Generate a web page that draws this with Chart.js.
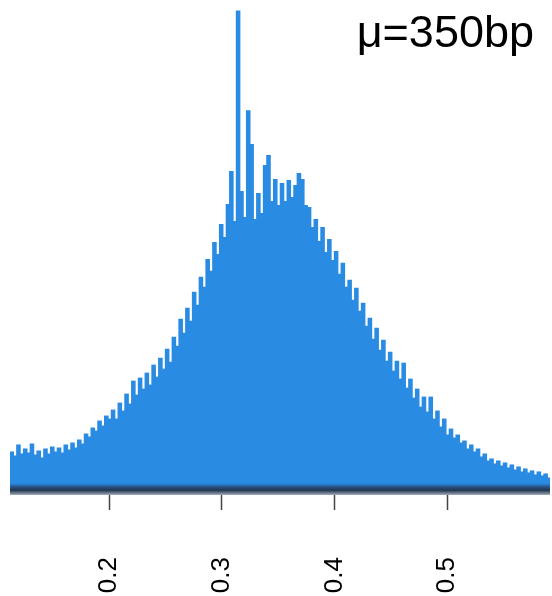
<!DOCTYPE html>
<html>
<head>
<meta charset="utf-8">
<script src="https://cdn.jsdelivr.net/npm/chart.js@4/dist/chart.umd.min.js"></script>
<style>
  html, body { margin: 0; padding: 0; background: #fff; }
  #wrap { width: 552px; height: 596px; position: relative; }
</style>
</head>
<body>
<div id="wrap"><canvas id="hist"></canvas></div>
<script>
// histogram bins: left edge of the first bin and the bin width
const BIN_START = 0.112;
const BIN_WIDTH = 0.003;

// counts per bin
const counts = [
    37, 33, 44, 35, 40, 36, 45, 34, 38, 31,
    40, 35, 42, 37, 41, 36, 44, 39, 46, 41,
    49, 45, 55, 52, 61, 58, 68, 63, 73, 70,
    79, 70, 86, 78, 95, 85, 108, 94, 111, 100,
    116, 104, 124, 112, 131, 120, 140, 127, 152, 143,
    170, 156, 181, 168, 197, 184, 212, 202, 230, 218,
    247, 235, 265, 252, 285, 318, 268, 479, 298, 272,
    379, 345, 270, 296, 276, 324, 334, 288, 310, 284,
    306, 288, 309, 292, 304, 316, 310, 284, 282, 262,
    270, 248, 262, 237, 250, 229, 238, 215, 226, 202,
    209, 189, 201, 178, 186, 163, 171, 150, 161, 139,
    149, 128, 137, 118, 128, 110, 126, 101, 110, 91,
    100, 82, 92, 77, 92, 70, 78, 62, 70, 54,
    60, 51, 54, 46, 48, 40, 44, 37, 40, 32,
    35, 28, 30, 25, 28, 23, 26, 21, 24, 19,
    22, 17, 20, 16, 18, 14, 17, 13, 15, 11
];

// x axis tick values
const xTicks = [0.2, 0.3, 0.4, 0.5];

const X_MIN = 0.112;
const X_MAX = 0.5914;
const Y_MAX = 480;

const titleText = 'μ=350bp';

// bars placed at bin centres
const points = counts.map((c, i) => ({ x: BIN_START + (i + 0.5) * BIN_WIDTH, y: c }));

// text in the top right corner, drawn over the plot
const cornerLabel = {
    id: 'cornerLabel',
    afterDraw(chart) {
        const ctx = chart.ctx;
        ctx.save();
        ctx.font = '45px "Liberation Sans", Arial, sans-serif';
        ctx.fillStyle = '#000';
        ctx.textAlign = 'right';
        ctx.textBaseline = 'alphabetic';
        ctx.fillText(titleText, 534, 47);
        ctx.restore();
    }
};

// shaded baseline under the bars
const baseBand = {
    id: 'baseBand',
    afterDatasetsDraw(chart) {
        const { ctx, chartArea } = chart;
        const y = chartArea.bottom;
        const g = ctx.createLinearGradient(0, y - 6, 0, y + 6);
        g.addColorStop(0, 'rgba(42,110,180,0)');
        g.addColorStop(0.3, '#2a5587');
        g.addColorStop(0.6, '#1f3550');
        g.addColorStop(1, '#a3adb8');
        ctx.save();
        ctx.fillStyle = g;
        ctx.fillRect(chartArea.left, y - 6, chartArea.right - chartArea.left, 12);
        ctx.restore();
    }
};

new Chart(document.getElementById('hist'), {
    type: 'bar',
    data: {
        datasets: [{
            data: points,
            backgroundColor: '#2a8be3',
            borderWidth: 0,
            inflateAmount: 0.6,
            barPercentage: 1,
            categoryPercentage: 1,
            grouped: false
        }]
    },
    options: {
        responsive: true,
        maintainAspectRatio: false,
        animation: false,
        layout: {
            padding: { left: 10, right: 2, top: 10, bottom: 0 }
        },
        plugins: {
            legend: { display: false },
            tooltip: { enabled: false }
        },
        scales: {
            x: {
                type: 'linear',
                offset: false,
                min: X_MIN,
                max: X_MAX,
                afterBuildTicks: (scale) => {
                    scale.ticks = xTicks.map(v => ({ value: v }));
                },
                afterFit: (scale) => {
                    scale.height = 107;
                },
                grid: {
                    offset: false,
                    drawOnChartArea: false,
                    drawTicks: true,
                    tickLength: 21,
                    tickWidth: 1.5,
                    tickColor: '#444'
                },
                border: {
                    display: false
                },
                ticks: {
                    minRotation: 90,
                    maxRotation: 90,
                    padding: 47,
                    color: '#000',
                    font: { family: '"Liberation Sans", Arial, sans-serif', size: 26 },
                    callback: (v) => Number(v).toFixed(1)
                }
            },
            y: {
                display: false,
                min: 0,
                max: Y_MAX
            }
        }
    },
    plugins: [baseBand, cornerLabel]
});
</script>
</body>
</html>
